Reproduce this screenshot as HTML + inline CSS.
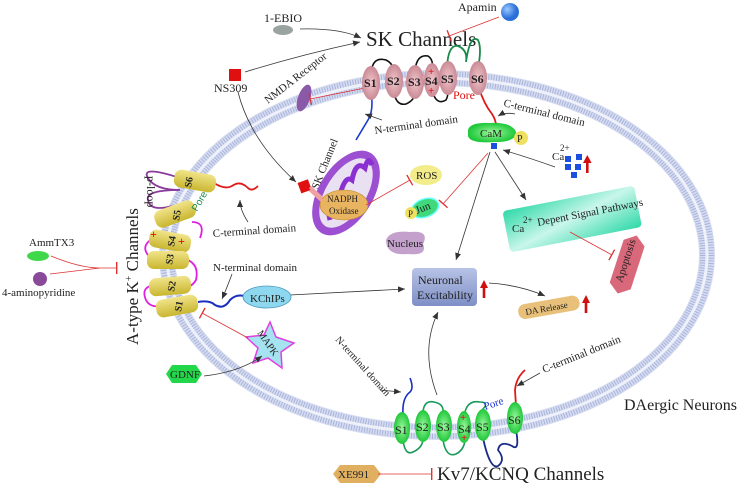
<!DOCTYPE html>
<html><head><meta charset="utf-8"><style>
html,body{margin:0;padding:0;background:#fff}
svg{display:block}
text{font-family:"Liberation Serif",serif;fill:#222}
.s{font-family:"Liberation Sans",sans-serif;font-weight:bold;font-size:10px;fill:#222}
</style></head><body>
<svg width="738" height="492" viewBox="0 0 738 492" xmlns="http://www.w3.org/2000/svg">
<defs>
<marker id="ar" markerWidth="8" markerHeight="8" refX="7" refY="4" orient="auto" markerUnits="userSpaceOnUse"><path d="M0,1 L7,4 L0,7 z" fill="#333"/></marker>
<marker id="tb" markerWidth="2" markerHeight="12" refX="1" refY="6" orient="auto" markerUnits="userSpaceOnUse"><rect x="0" y="0" width="1.4" height="12" fill="#d33"/></marker>
<linearGradient id="nb" x1="0" y1="0" x2="0" y2="1"><stop offset="0" stop-color="#b7c3e6"/><stop offset="1" stop-color="#7f8fc6"/></linearGradient>
<linearGradient id="tl" x1="0" y1="0" x2="1" y2="1"><stop offset="0" stop-color="#2fd9a8"/><stop offset="0.5" stop-color="#c8f6ea"/><stop offset="1" stop-color="#2fd9a8"/></linearGradient>
<radialGradient id="bb" cx="0.35" cy="0.35"><stop offset="0" stop-color="#9cc8ff"/><stop offset="1" stop-color="#2a6fd8"/></radialGradient>
<radialGradient id="pk" cx="0.5" cy="0.5"><stop offset="0" stop-color="#f2c6cc"/><stop offset="1" stop-color="#c98a95"/></radialGradient>
<radialGradient id="gr" cx="0.5" cy="0.5"><stop offset="0" stop-color="#9cf79c"/><stop offset="1" stop-color="#1fc83a"/></radialGradient>
<linearGradient id="ye" x1="0" y1="0" x2="0" y2="1"><stop offset="0" stop-color="#f1e48a"/><stop offset="1" stop-color="#c9b630"/></linearGradient>
</defs>

<!-- membrane -->
<ellipse cx="437" cy="255" rx="270" ry="177" fill="none" stroke="#d6dcf0" stroke-width="16"/>
<ellipse cx="437" cy="255" rx="270" ry="177" fill="none" stroke="#a9b4dc" stroke-width="14" stroke-dasharray="1 1.6"/>
<ellipse cx="437" cy="255" rx="270" ry="177" fill="none" stroke="#eef1fa" stroke-width="3"/>

<!-- top: 1-EBIO, SK channels -->
<text x="264" y="22" font-size="12">1-EBIO</text>
<ellipse cx="283" cy="30" rx="10" ry="5" fill="#9aa3a0"/>
<path d="M300,29 Q340,28 361,38" fill="none" stroke="#333" stroke-width="0.8" marker-end="url(#ar)"/>
<text x="366" y="46" font-size="21">SK Channels</text>
<text x="458" y="11" font-size="12">Apamin</text>
<circle cx="510" cy="12" r="9" fill="url(#bb)"/>
<path d="M499,17 L449,36" stroke="#d33" stroke-width="0.8" marker-end="url(#tb)"/>
<rect x="229" y="69" width="12" height="12" fill="#e01010"/>
<text x="214" y="92" font-size="12">NS309</text>
<path d="M245,72 Q300,55 360,42" fill="none" stroke="#333" stroke-width="0.8" marker-end="url(#ar)"/>
<path d="M238,92 Q250,140 296,182" fill="none" stroke="#333" stroke-width="0.8" marker-end="url(#ar)"/>
<text x="0" y="0" font-size="11" transform="translate(268,104) rotate(-38)">NMDA Receptor</text>
<ellipse cx="304" cy="98" rx="6" ry="14" fill="#8a5aa8" transform="rotate(20 304 98)"/>
<path d="M365,88 L310,99" stroke="#d33" stroke-width="0.8" marker-end="url(#tb)"/>

<!-- SK loops -->
<path d="M371,74 Q372,56 386,60 Q394,64 394,73" fill="none" stroke="#111" stroke-width="1.6"/>
<path d="M394,92 Q396,106 406,104 Q415,100 415,92" fill="none" stroke="#111" stroke-width="1.6"/>
<path d="M415,72 Q416,54 428,56 Q434,60 432,70" fill="none" stroke="#111" stroke-width="1.6"/>
<path d="M432,90 Q436,106 446,100 Q449,95 447,88" fill="none" stroke="#111" stroke-width="1.6"/>
<path d="M447,68 Q448,44 458,46 Q468,50 466,62 Q470,34 478,40 Q482,48 478,68" fill="none" stroke="#1a8a4a" stroke-width="1.8"/>
<path d="M371,92 Q374,110 368,120 Q362,130 356,140" fill="none" stroke="#1a3ad0" stroke-width="1.6"/>
<path d="M479,88 Q484,104 492,114 Q496,120 496,126" fill="none" stroke="#e01818" stroke-width="1.8"/>
<g>
<ellipse cx="371" cy="83" rx="9" ry="17" fill="url(#pk)"/>
<ellipse cx="394" cy="81" rx="9" ry="17" fill="url(#pk)"/>
<ellipse cx="415" cy="82" rx="9" ry="17" fill="url(#pk)"/>
<ellipse cx="432" cy="80" rx="8" ry="17" fill="url(#pk)"/>
<ellipse cx="448" cy="78" rx="9" ry="17" fill="url(#pk)"/>
<ellipse cx="478" cy="78" rx="9" ry="17" fill="url(#pk)"/>
<text class="s" x="364" y="87" style="font-family:'Liberation Serif';font-size:12px">S1</text>
<text class="s" x="387" y="85" style="font-family:'Liberation Serif';font-size:12px">S2</text>
<text class="s" x="408" y="86" style="font-family:'Liberation Serif';font-size:12px">S3</text>
<text class="s" x="425" y="85" style="font-family:'Liberation Serif';font-size:12px">S4</text>
<text class="s" x="441" y="83" style="font-family:'Liberation Serif';font-size:12px">S5</text>
<text class="s" x="471" y="83" style="font-family:'Liberation Serif';font-size:12px">S6</text>
<text x="428" y="75" font-size="11" font-weight="bold" style="fill:#e01010">+</text>
<text x="428" y="94" font-size="11" font-weight="bold" style="fill:#e01010">+</text>
</g>
<text x="453" y="99" font-size="12" style="fill:#e01010">Pore</text>
<text x="0" y="0" font-size="11" transform="translate(375,134) rotate(-8)">N-terminal domain</text>
<path d="M382,120 L365,114" stroke="#333" stroke-width="0.8" marker-end="url(#ar)"/>
<text x="0" y="0" font-size="11" transform="translate(503,106) rotate(14)">C-terminal domain</text>
<path d="M515,114 Q505,112 498,116" fill="none" stroke="#333" stroke-width="0.8" marker-end="url(#ar)"/>

<!-- CaM -->
<path d="M468,130 Q470,122 490,123 Q512,122 516,132 Q516,142 496,142 Q470,144 468,136 z" fill="url(#gr)"/>
<text x="480" y="137" font-size="11">CaM</text>
<circle cx="521" cy="138" r="7" fill="#f0e060"/>
<text x="517" y="142" font-size="10">P</text>
<rect x="491" y="143" width="6" height="6" fill="#1a4fe0"/>
<text x="552" y="160" font-size="11">Ca</text>
<text x="560" y="151" font-size="9">2+</text>
<g fill="#1a4fe0"><rect x="565" y="156" width="6" height="6"/><rect x="576" y="154" width="6" height="6"/><rect x="565" y="164" width="6" height="6"/><rect x="575" y="164" width="6" height="6"/><rect x="571" y="172" width="6" height="6"/></g>
<g fill="#d01010">
<rect x="586" y="162" width="2.6" height="11"/><polygon points="583,163 587.3,155 591.6,163"/>
<rect x="482.7" y="287" width="2.6" height="11"/><polygon points="480,288 484,280 488,288"/>
<rect x="584.7" y="302" width="2.6" height="11"/><polygon points="582,303 586,295 590,303"/>
</g>
<path d="M555,167 Q530,158 503,150" fill="none" stroke="#333" stroke-width="0.8" marker-end="url(#ar)"/>
<path d="M495,152 L526,200" stroke="#333" stroke-width="0.8" marker-end="url(#ar)"/>
<path d="M490,152 L456,260" stroke="#333" stroke-width="0.8" marker-end="url(#ar)"/>
<path d="M488,153 L443,204" stroke="#d33" stroke-width="0.8" marker-end="url(#tb)"/>

<!-- SK Channel / mito -->
<text x="0" y="0" font-size="11" transform="translate(318,190) rotate(-68)">SK Channel</text>
<ellipse cx="346" cy="193" rx="27" ry="47" fill="#9c4fd0" transform="rotate(32 346 193)"/>
<ellipse cx="346" cy="193" rx="20" ry="39" fill="#e9e0f2" transform="rotate(32 346 193)"/>
<path d="M330,220 Q325,200 340,195 Q345,175 352,180 Q356,160 365,168 Q368,155 372,165" fill="none" stroke="#8a2fd0" stroke-width="5"/>
<ellipse cx="344" cy="205" rx="24" ry="15" fill="#e8b460" stroke="#c08a30" stroke-width="0.6"/>
<text x="327" y="202" font-size="9">NADPH</text>
<text x="329" y="214" font-size="9">Oxidase</text>
<rect x="299" y="181" width="11" height="11" fill="#e01010" transform="rotate(-20 304 186)"/>
<path d="M310,187 L322,198 M310,190 L322,201" stroke="#f0a0a0" stroke-width="3"/>
<path d="M366,205 L410,180" stroke="#d33" stroke-width="0.8" marker-end="url(#tb)"/>
<ellipse cx="426" cy="175" rx="16" ry="10" fill="#f2ec8a"/>
<text x="416" y="179" font-size="11">ROS</text>
<ellipse cx="425" cy="208" rx="14" ry="9" fill="#3fd87a" stroke="#6ff" stroke-width="1.5" transform="rotate(-20 425 208)"/>
<text x="0" y="0" font-size="11" transform="translate(417,214) rotate(-22)">Jun</text>
<circle cx="411" cy="213" r="6" fill="#f0e060"/>
<text x="408" y="217" font-size="9">P</text>
<path d="M386,240 Q390,230 410,232 Q430,230 423,244 Q428,256 408,254 Q386,256 386,240 z" fill="#c4a0cc"/>
<text x="387" y="247" font-size="11">Nucleus</text>

<!-- Ca dependent -->
<g transform="rotate(-11 572 218)"><rect x="505" y="198" width="134" height="42" rx="4" fill="url(#tl)"/></g>
<text x="512" y="232" font-size="11">Ca</text>
<text x="523" y="223" font-size="9">2+</text>
<text x="0" y="0" font-size="11" transform="translate(538,226) rotate(-11)">Depent Signal Pathways</text>
<path d="M570,232 L612,255" stroke="#d33" stroke-width="0.8" marker-end="url(#tb)"/>
<g transform="rotate(-72 627 265)"><polygon points="597,265 605,254 650,254 658,265 650,276 605,276" fill="#d8687a"/></g>
<text x="0" y="0" font-size="11" transform="translate(622,283) rotate(-72)">Apoptosis</text>

<!-- Neuronal excitability -->
<rect x="412" y="268" width="65" height="38" rx="4" fill="url(#nb)"/>
<text x="418" y="284" font-size="12">Neuronal</text>
<text x="417" y="299" font-size="12">Excitability</text>
<path d="M489,283 Q520,285 545,296" fill="none" stroke="#333" stroke-width="0.8" marker-end="url(#ar)"/>
<g transform="rotate(-10 548 308)"><rect x="518" y="300" width="62" height="15" rx="7" fill="#e8c07a"/></g>
<text x="0" y="0" font-size="9" transform="translate(526,315) rotate(-10)">DA Release</text>
<path d="M437,395 Q420,350 438,312" fill="none" stroke="#333" stroke-width="0.8" marker-end="url(#ar)"/>
<path d="M290,295 L405,289" stroke="#333" stroke-width="0.8" marker-end="url(#ar)"/>

<!-- A-type channel -->
<path d="M180,178 Q140,165 148,178 Q155,190 180,190 Q145,190 148,200 Q150,212 172,206" fill="none" stroke="#8a3a9a" stroke-width="1.8"/>
<path d="M192,222 Q206,222 200,238 M155,237 Q140,245 148,255 Q150,262 162,260 M182,258 Q200,262 196,280 Q190,290 180,286 M156,285 Q140,286 146,300 Q150,308 162,306" fill="none" stroke="#e020e0" stroke-width="1.8"/>
<path d="M214,183 Q225,190 232,186 Q240,180 248,188 Q252,192 258,186" fill="none" stroke="#e01818" stroke-width="1.8"/>
<path d="M198,302 Q210,300 215,305 Q224,310 230,300 Q236,294 244,296" fill="none" stroke="#1a2fc0" stroke-width="2"/>
<g fill="url(#ye)">
<rect x="174" y="172" width="42" height="18" rx="7" transform="rotate(10 195 181)"/>
<rect x="154" y="205" width="42" height="18" rx="7" transform="rotate(-20 175 214)"/>
<rect x="149" y="232" width="42" height="18" rx="7" transform="rotate(10 170 241)"/>
<rect x="147" y="251" width="42" height="18" rx="7"/>
<rect x="149" y="277" width="42" height="18" rx="7" transform="rotate(-5 170 286)"/>
<rect x="156" y="297" width="42" height="18" rx="7" transform="rotate(-10 177 306)"/>
</g>
<g font-size="10" style="font-family:'Liberation Sans';font-weight:bold">
<text transform="translate(191,188) rotate(-80)">S6</text>
<text transform="translate(179,221) rotate(-80)">S5</text>
<text transform="translate(174,247) rotate(-80)">S4</text>
<text transform="translate(172,265) rotate(-80)">S3</text>
<text transform="translate(174,292) rotate(-80)">S2</text>
<text transform="translate(181,312) rotate(-80)">S1</text>
</g>
<text x="150" y="238" font-size="12" font-weight="bold" style="fill:#e01010">+</text>
<text x="178" y="245" font-size="12" font-weight="bold" style="fill:#e01010">+</text>
<text transform="translate(197,212) rotate(-60)" font-size="10" style="fill:#1a8a4a;font-family:'Liberation Sans'">Pore</text>
<text transform="translate(147,176) rotate(90)" font-size="12">p-loop</text>
<text transform="translate(138,345) rotate(-90)" font-size="17">A-type K<tspan font-size="10" dy="-6">+</tspan><tspan dy="6"> Channels</tspan></text>
<text transform="translate(213,237) rotate(-4)" font-size="11">C-terminal domain</text>
<path d="M248,222 Q240,210 240,200" fill="none" stroke="#333" stroke-width="0.8" marker-end="url(#ar)"/>
<text x="213" y="271" font-size="11">N-terminal domain</text>
<path d="M232,274 Q228,285 222,299" fill="none" stroke="#333" stroke-width="0.8" marker-end="url(#ar)"/>
<ellipse cx="267" cy="297" rx="24" ry="11" fill="#8ed8ef" stroke="#4a9ac0" stroke-width="0.8"/>
<text x="250" y="302" font-size="11">KChIPs</text>
<text x="29" y="246" font-size="11">AmmTX3</text>
<ellipse cx="38" cy="256" rx="11" ry="5" fill="#3fd84a"/>
<circle cx="40" cy="279" r="7" fill="#8a4a9a"/>
<text x="2" y="296" font-size="11">4-aminopyridine</text>
<path d="M51,256 Q80,268 100,268 M50,274 L100,268 L116,268" fill="none" stroke="#d33" stroke-width="0.8"/>
<rect x="116" y="262" width="1.4" height="12" fill="#d33"/>
<polygon points="270,322 276,337 294,343 281,352 282,368 268,358 253,363 258,348 246,337 264,335" fill="#a6e3f0" stroke="#e040e0" stroke-width="1.5"/>
<text transform="translate(257,333) rotate(55)" font-size="10">MAPK</text>
<path d="M248,338 L202,313" stroke="#d33" stroke-width="0.8" marker-end="url(#tb)"/>
<polygon points="166,374 172,365 196,365 202,374 196,383 172,383" fill="#22d84a"/>
<text x="170" y="378" font-size="11">GDNF</text>
<path d="M204,376 Q240,372 262,356" fill="none" stroke="#333" stroke-width="0.8" marker-end="url(#ar)"/>

<!-- Kv7 -->
<path d="M403,414 Q402,398 410,392 Q414,388 410,378" fill="none" stroke="#1a2fc0" stroke-width="1.6"/>
<path d="M403,440 Q405,456 413,452 Q422,448 423,440 M423,412 Q424,400 434,402 Q444,404 443,412 M443,440 Q446,458 456,454 Q464,450 465,440 M465,412 Q468,400 480,402 Q490,402 482,410" fill="none" stroke="#1a9a5a" stroke-width="1.6"/>
<path d="M483,438 Q490,470 498,466 Q506,460 498,450 Q500,440 512,446 Q520,452 516,430" fill="none" stroke="#1a2a8a" stroke-width="1.8"/>
<path d="M516,406 L515,390 Q516,378 525,370" fill="none" stroke="#e01818" stroke-width="1.8"/>
<g fill="url(#gr)">
<ellipse cx="402" cy="428" rx="8" ry="16"/>
<ellipse cx="423" cy="426" rx="8" ry="16"/>
<ellipse cx="444" cy="426" rx="8" ry="16"/>
<ellipse cx="464" cy="427" rx="7" ry="16"/>
<ellipse cx="483" cy="425" rx="8" ry="16"/>
<ellipse cx="515" cy="418" rx="8" ry="16"/>
</g>
<g font-size="12"><text x="395" y="434">S1</text><text x="416" y="431">S2</text><text x="437" y="431">S3</text><text x="458" y="433">S4</text><text x="476" y="431">S5</text><text x="508" y="424">S6</text></g>
<text x="460" y="421" font-size="11" font-weight="bold" style="fill:#e01010">+</text>
<text x="461" y="441" font-size="11" font-weight="bold" style="fill:#e01010">+</text>
<text transform="translate(485,410) rotate(-18)" font-size="11" style="fill:#1a2fd0">Pore</text>
<text transform="translate(335,340) rotate(48)" font-size="10">N-terminal domain</text>
<path d="M380,390 L401,392" stroke="#333" stroke-width="0.8" marker-end="url(#ar)"/>
<text transform="translate(544,373) rotate(-22)" font-size="11">C-terminal domain</text>
<path d="M540,373 L517,386" stroke="#333" stroke-width="0.8" marker-end="url(#ar)"/>
<text x="624" y="410" font-size="16">DAergic Neurons</text>
<polygon points="333,474 340,465 374,465 381,474 374,483 340,483" fill="#e0b060"/>
<text x="338" y="478" font-size="11">XE991</text>
<path d="M378,474 L432,474" stroke="#d33" stroke-width="0.8" marker-end="url(#tb)"/>
<text x="437" y="480" font-size="19">Kv7/KCNQ Channels</text>
</svg>
</body></html>
